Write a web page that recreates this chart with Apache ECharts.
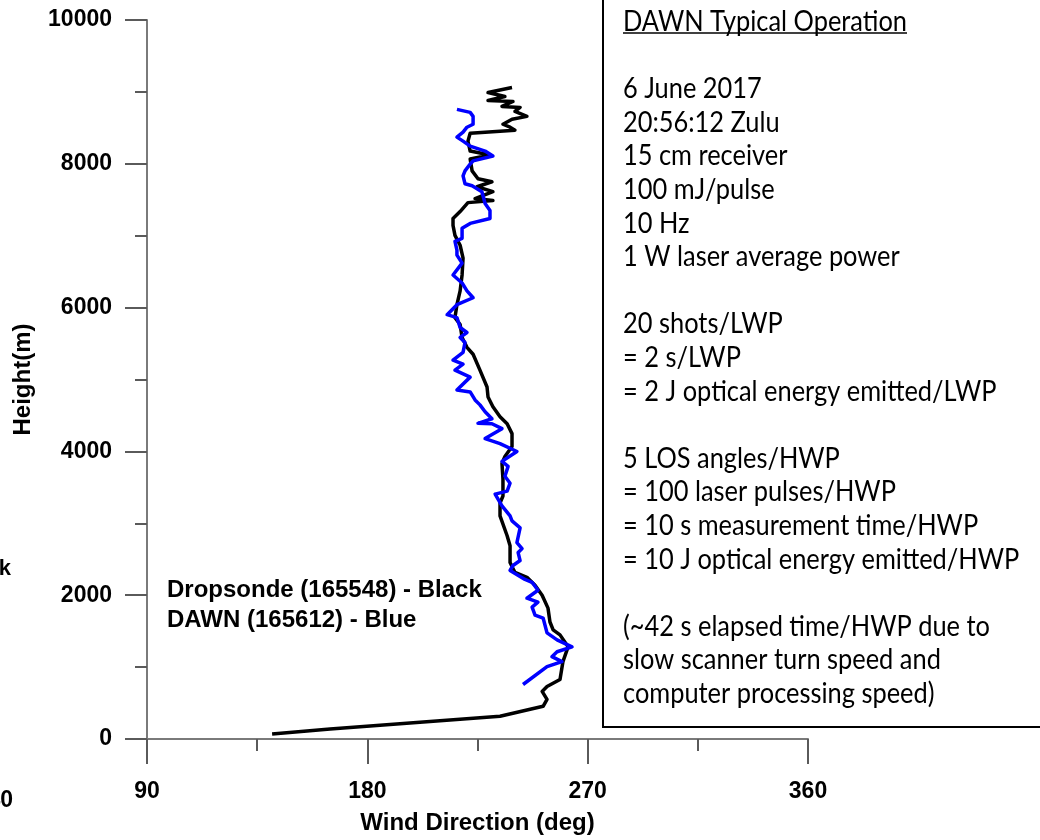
<!DOCTYPE html>
<html>
<head>
<meta charset="utf-8">
<title>DAWN wind direction profile</title>
<script src="https://cdn.jsdelivr.net/npm/echarts@6/dist/echarts.min.js"></script>
<style>
  html, body { margin: 0; padding: 0; background: #fff; overflow: hidden; }
  #chart { width: 1040px; height: 840px; }
</style>
</head>
<body>
<div id="chart"></div>
<script>
const dropsondeDir = [141.1, 164.8, 201.5, 234.2, 251.8, 253.4, 251.4, 253.4, 258.7, 259.9, 262.0, 258.7, 255.9, 254.6, 253.8, 251.4, 248.5, 245.2, 240.3, 238.3, 238.3, 237.1, 234.2, 234.2, 235.4, 235.4, 235.0, 236.2, 239.1, 239.1, 237.1, 234.2, 231.3, 229.3, 228.9, 226.0, 223.2, 220.7, 218.7, 217.9, 215.8, 216.6, 217.9, 218.7, 219.1, 217.9, 215.8, 215.0, 215.0, 217.9, 221.1, 231.3, 224.0, 231.3, 224.8, 230.9, 225.2, 222.8, 222.0, 230.1, 222.0, 221.1, 222.0, 240.3, 238.3, 235.4, 239.1, 245.2, 240.3, 242.4, 235.0, 239.5, 229.3, 236.2, 229.3, 239.1];
const dropsondeHeight = [69, 138, 234, 317, 455, 552, 662, 731, 827, 1076, 1282, 1448, 1517, 1627, 1820, 2000, 2137, 2248, 2317, 2455, 2689, 2827, 3103, 3282, 3379, 3613, 3834, 3930, 4068, 4247, 4385, 4482, 4620, 4758, 4895, 5130, 5351, 5447, 5585, 5764, 5861, 6040, 6233, 6454, 6688, 6867, 7005, 7143, 7240, 7336, 7460, 7488, 7516, 7612, 7681, 7750, 7792, 7902, 8067, 8122, 8177, 8315, 8426, 8467, 8509, 8550, 8619, 8660, 8729, 8784, 8798, 8867, 8881, 8936, 8991, 9060];

// DAWN lidar profile (blue)
const dawnDir = [243.6, 253.4, 259.5, 255.4, 257.5, 263.6, 257.5, 253.4, 251.8, 248.5, 247.3, 249.7, 245.2, 249.7, 247.3, 244.4, 238.3, 239.5, 242.4, 241.6, 243.2, 241.1, 242.4, 239.1, 238.3, 235.0, 232.2, 237.1, 238.3, 236.2, 237.5, 235.0, 241.1, 234.2, 228.1, 235.0, 230.9, 225.2, 230.9, 228.1, 226.0, 224.0, 222.0, 216.6, 222.0, 215.8, 219.1, 215.0, 219.1, 219.9, 217.9, 220.7, 217.9, 216.6, 212.6, 216.6, 223.2, 220.7, 218.7, 215.0, 218.7, 216.6, 216.6, 215.8, 218.7, 218.7, 222.0, 230.1, 230.1, 228.1, 226.8, 222.8, 219.9, 219.1, 219.9, 222.0, 223.2, 231.3, 228.1, 222.0, 219.1, 216.6, 219.1, 220.7, 223.2, 224.0, 223.2, 222.0, 216.6];
const dawnHeight = [758, 1007, 1076, 1145, 1214, 1282, 1379, 1476, 1682, 1724, 1834, 1903, 1958, 2069, 2179, 2220, 2344, 2413, 2482, 2593, 2648, 2730, 2937, 3034, 3103, 3241, 3406, 3448, 3558, 3654, 3792, 3861, 3999, 4109, 4178, 4316, 4385, 4390, 4454, 4551, 4647, 4716, 4827, 4854, 5033, 5130, 5213, 5268, 5378, 5516, 5585, 5654, 5723, 5861, 5902, 6040, 6137, 6233, 6343, 6454, 6619, 6730, 6798, 6922, 6964, 7102, 7171, 7240, 7350, 7447, 7612, 7695, 7722, 7833, 7902, 7998, 8040, 8109, 8177, 8246, 8315, 8371, 8440, 8509, 8550, 8577, 8660, 8715, 8757];

const legendLines = ['Dropsonde (165548) - Black', 'DAWN (165612) - Blue'];

const noteLines = [
  'DAWN Typical Operation',
  '',
  '6 June 2017',
  '20:56:12 Zulu',
  '15 cm receiver',
  '100 mJ/pulse',
  '10 Hz',
  '1 W laser average power',
  '',
  '20 shots/LWP',
  '= 2 s/LWP',
  '= 2 J optical energy emitted/LWP',
  '',
  '5 LOS angles/HWP',
  '= 100 laser pulses/HWP',
  '= 10 s measurement time/HWP',
  '= 10 J optical energy emitted/HWP',
  '',
  '(~42 s elapsed time/HWP due to',
  'slow scanner turn speed and',
  'computer processing speed)'
];

const AX_FONT = '"Liberation Sans", Arial, sans-serif';
const NOTE_FONT = 'Lato, "Open Sans", sans-serif';
const NOTE_SIZE = 28;

// squeeze the note text so it runs as wide as the Calibri original
const measureCtx = document.createElement('canvas').getContext('2d');
measureCtx.font = NOTE_SIZE + 'px ' + NOTE_FONT;
const headerWidth = measureCtx.measureText(noteLines[0]).width;
const noteScale = 284 / headerWidth;

const zip = (xs, ys) => xs.map((x, i) => [x, ys[i]]);

const chart = echarts.init(document.getElementById('chart'));

const noteTexts = noteLines.map((line, i) => ({
  type: 'text',
  x: 623,
  y: 36 + i * 33.6,
  scaleX: noteScale,
  silent: true,
  style: {
    x: 0,
    y: 0,
    text: line,
    fill: '#000',
    font: NOTE_SIZE + 'px ' + NOTE_FONT,
    textVerticalAlign: 'bottom',
    verticalAlign: 'bottom'
  }
}));

const option = {
  backgroundColor: '#fff',
  animation: false,
  grid: {
    left: 147,
    right: 232,
    top: 20,
    bottom: 95,
    containLabel: false
  },
  xAxis: {
    type: 'value',
    min: 90,
    max: 360,
    interval: 90,
    name: 'Wind Direction (deg)',
    nameLocation: 'middle',
    nameGap: 72,
    nameTextStyle: { fontFamily: AX_FONT, fontWeight: 'bold', fontSize: 24, color: '#000' },
    axisLine: { lineStyle: { color: '#7a7a7a', width: 2 } },
    axisTick: { length: 25, lineStyle: { color: '#5a5a5a', width: 2 } },
    minorTick: { show: true, splitNumber: 2, length: 12, lineStyle: { color: '#5a5a5a', width: 2 } },
    axisLabel: { margin: 41, fontFamily: AX_FONT, fontWeight: 'bold', fontSize: 23, color: '#000' },
    splitLine: { show: false }
  },
  yAxis: {
    type: 'value',
    min: 0,
    max: 10000,
    interval: 2000,
    name: 'Height(m)',
    nameLocation: 'middle',
    nameRotate: 90,
    nameGap: 112,
    nameTextStyle: { fontFamily: AX_FONT, fontWeight: 'bold', fontSize: 24, color: '#000' },
    axisLine: { lineStyle: { color: '#7a7a7a', width: 2 } },
    axisTick: { length: 22, lineStyle: { color: '#5a5a5a', width: 2 } },
    minorTick: { show: true, splitNumber: 2, length: 12, lineStyle: { color: '#5a5a5a', width: 2 } },
    axisLabel: {
      margin: 35,
      fontFamily: AX_FONT,
      fontWeight: 'bold',
      fontSize: 23,
      color: '#000',
      formatter: v => String(v)
    },
    splitLine: { show: false }
  },
  series: [
    {
      name: 'Dropsonde',
      type: 'line',
      showSymbol: false,
      symbol: 'none',
      lineStyle: { color: '#000', width: 3.5, join: 'round' },
      data: zip(dropsondeDir, dropsondeHeight)
    },
    {
      name: 'DAWN',
      type: 'line',
      showSymbol: false,
      symbol: 'none',
      lineStyle: { color: '#0000ff', width: 3.5, join: 'round' },
      data: zip(dawnDir, dawnHeight)
    }
  ],
  graphic: [
    // fragments of the neighbouring panel cut off at the left edge
    {
      type: 'text', x: 11, y: 580, silent: true,
      style: { text: 'Black', font: 'bold 22px ' + AX_FONT, fill: '#000', textAlign: 'right', textVerticalAlign: 'bottom' }
    },
    {
      type: 'text', x: 13, y: 812, silent: true,
      style: { text: '40', font: 'bold 23px ' + AX_FONT, fill: '#000', textAlign: 'right', textVerticalAlign: 'bottom' }
    },
    {
      type: 'text', x: 167, y: 602, silent: true,
      style: { text: legendLines[0], font: 'bold 24px ' + AX_FONT, fill: '#000', textVerticalAlign: 'bottom' }
    },
    {
      type: 'text', x: 167, y: 632, silent: true,
      style: { text: legendLines[1], font: 'bold 24px ' + AX_FONT, fill: '#000', textVerticalAlign: 'bottom' }
    },
    // note box: left and bottom edges
    {
      type: 'line', silent: true,
      shape: { x1: 603, y1: 0, x2: 603, y2: 728 },
      style: { stroke: '#000', lineWidth: 2 }
    },
    {
      type: 'line', silent: true,
      shape: { x1: 602, y1: 727, x2: 1040, y2: 727 },
      style: { stroke: '#000', lineWidth: 2 }
    },
    {
      type: 'line', silent: true,
      shape: { x1: 623, y1: 33, x2: 907, y2: 33 },
      style: { stroke: '#000', lineWidth: 1.5 }
    }
  ].concat(noteTexts)
};

chart.setOption(option);
</script>
</body>
</html>
